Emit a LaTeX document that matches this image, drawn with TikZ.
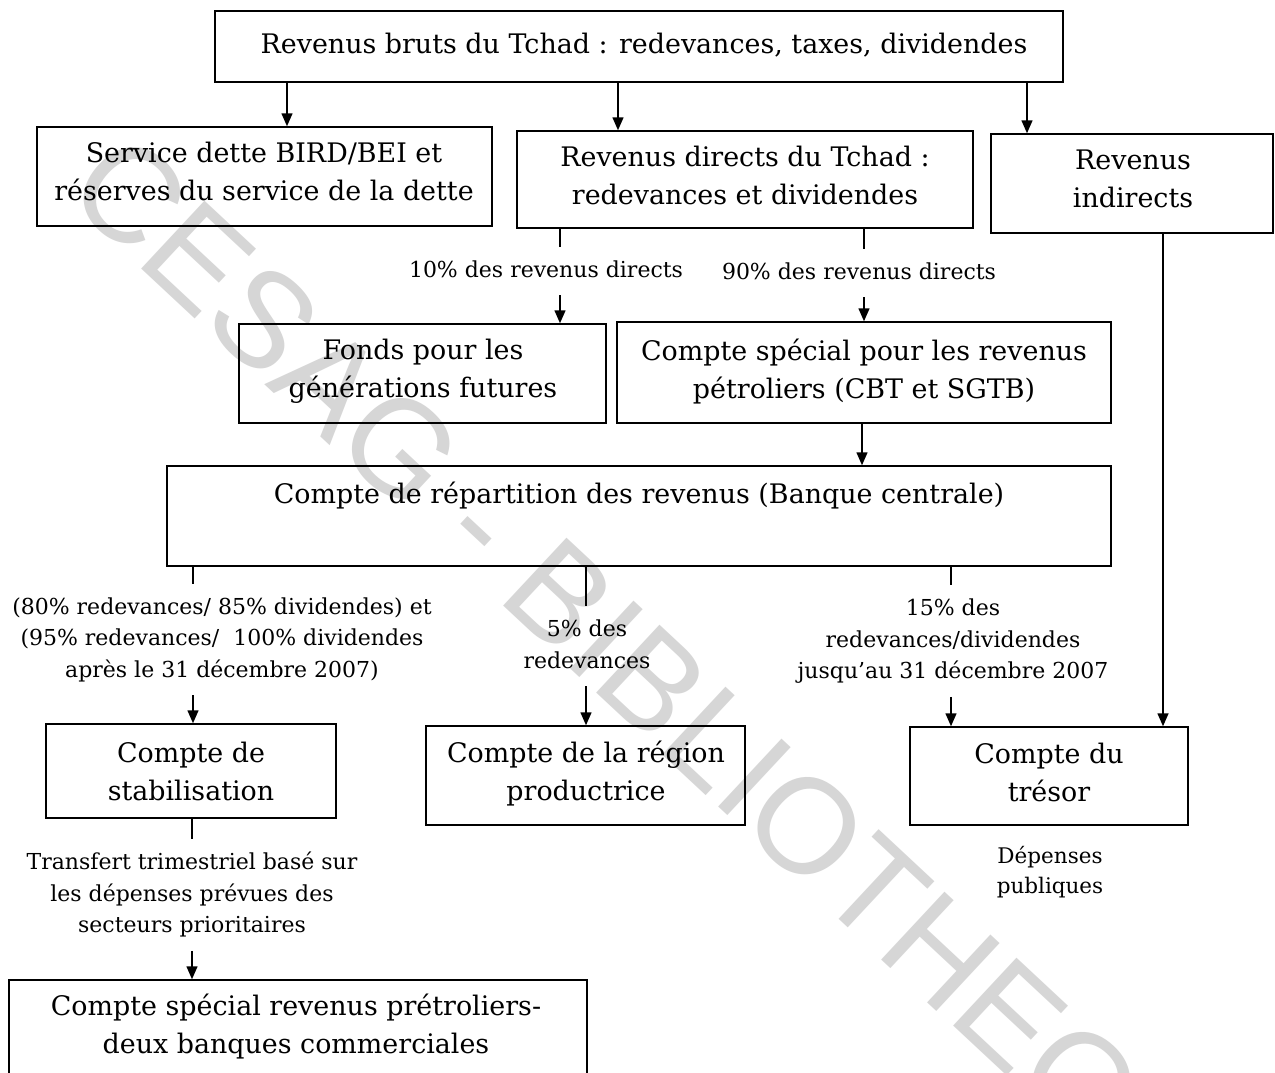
\documentclass[tikz,border=0pt]{standalone}
\usepackage{fontspec}
\usetikzlibrary{arrows.meta}
\newfontfamily\wmfont{Liberation Sans}
\newfontfamily\dserif{DejaVu Serif}
\tikzset{
  box/.style={draw, line width=1.5pt, inner sep=0pt},
  btxt/.style={align=center, font=\dserif\fontsize{26.9}{38}\selectfont, inner sep=0pt},
  ltxt/.style={align=center, font=\dserif\fontsize{22}{31.5}\selectfont, inner xsep=0pt, inner ysep=8.5pt},
  dtxt/.style={align=center, font=\dserif\fontsize{21.5}{30}\selectfont, inner sep=0pt},
  arr/.style={line width=1.5pt, -{Triangle[length=13pt,width=11pt]}},
  ln/.style={line width=1.5pt},
  wm/.style={text=black!16, font=\wmfont\fontsize{135}{135}\selectfont, inner sep=0pt},
}
\begin{document}
\begin{tikzpicture}[x=1pt,y=-1pt]
\useasboundingbox (0,0) rectangle (1275,1073);
\fill[white] (0,0) rectangle (1275,1073);
% watermark
\node[wm, rotate=-43] (wmark) at (667,712) {CESAG - BIBLIOTHEQUE};
% boxes
\node[box, minimum width=848, minimum height=71] (top) at (639,46.5) {};
\node[box, minimum width=455, minimum height=99] (svc) at (264.5,176.5) {};
\node[box, minimum width=456, minimum height=97] (dir) at (745,179.5) {};
\node[box, minimum width=282, minimum height=99] (ind) at (1132,183.5) {};
\node[box, minimum width=367, minimum height=99] (fonds) at (422.5,373.5) {};
\node[box, minimum width=494, minimum height=101] (csp) at (864,372.5) {};
\node[box, minimum width=944, minimum height=100] (rep) at (639,516) {};
\node[box, minimum width=290, minimum height=94] (stab) at (191,771) {};
\node[box, minimum width=319, minimum height=99] (reg) at (585.5,775.5) {};
\node[box, minimum width=278, minimum height=98] (tres) at (1049,776) {};
\node[box, minimum width=578, minimum height=110] (bot) at (298,1035) {};
% box texts
\node[btxt] (ttop) at (644,45.5) {\strut Revenus bruts du Tchad : redevances, taxes, dividendes};
\node[btxt] (tsvc) at (264,173.5) {\strut Service dette BIRD/BEI et\\\strut réserves du service de la dette};
\node[btxt] (tdir) at (745,177.5) {\strut Revenus directs du Tchad :\\\strut redevances et dividendes};
\node[btxt] (tind) at (1133,181) {\strut Revenus\\\strut indirects};
\node[btxt] (tfonds) at (423,371) {\strut Fonds pour les\\\strut générations futures};
\node[btxt] (tcsp) at (864,371.5) {\strut Compte spécial pour les revenus\\\strut pétroliers (CBT et SGTB)};
\node[btxt] (trep) at (639,495.5) {\strut Compte de répartition des revenus (Banque centrale)};
\node[btxt] (tstab) at (191,774) {\strut Compte de\\\strut stabilisation};
\node[btxt] (treg) at (586,774) {\strut Compte de la région\\\strut productrice};
\node[btxt] (ttres) at (1049,775) {\strut Compte du\\\strut trésor};
\node[btxt] (tbot) at (296,1027) {\strut Compte spécial revenus prétroliers-\\\strut deux banques commerciales};
% labels
\node[ltxt] (l10) at (546,271) {\strut 10\% des revenus directs};
\node[ltxt] (l90) at (859,273) {\strut 90\% des revenus directs};
\node[ltxt] (lL) at (222,639.5) {\strut (80\% redevances/ 85\% dividendes) et\\\strut (95\% redevances/\ \ 100\% dividendes\\\strut après le 31 décembre 2007)};
\node[ltxt] (l5) at (587,646) {\strut 5\% des\\\strut redevances};
\node[ltxt] (l15) at (953,641) {\strut 15\% des\\\strut redevances/dividendes\\\strut jusqu’au 31 décembre 2007};
\node[ltxt] (lT) at (192,895) {\strut Transfert trimestriel basé sur\\\strut les dépenses prévues des\\\strut secteurs prioritaires};
\node[dtxt] (ldep) at (1050,872) {\strut Dépenses\\\strut publiques};
% x positions of connectors
\coordinate (xA) at (287,0);
\coordinate (xB) at (618,0);
\coordinate (xC) at (1027,0);
\coordinate (xD) at (560,0);
\coordinate (xE) at (864,0);
\coordinate (xF) at (862,0);
\coordinate (xG) at (193,0);
\coordinate (xH) at (586,0);
\coordinate (xI) at (951,0);
\coordinate (xJ) at (1163,0);
\coordinate (xK) at (192,0);
% connectors
\draw[arr] (top.south -| xA) -- (svc.north -| xA);
\draw[arr] (top.south -| xB) -- (dir.north -| xB);
\draw[arr] (top.south -| xC) -- (ind.north -| xC);
\draw[ln] (dir.south -| xD) -- (l10.north -| xD);
\draw[arr] (l10.south -| xD) -- (fonds.north -| xD);
\draw[ln] (dir.south -| xE) -- (l90.north -| xE);
\draw[arr] (l90.south -| xE) -- (csp.north -| xE);
\draw[arr] (csp.south -| xF) -- (rep.north -| xF);
\draw[ln] (rep.south -| xG) -- (lL.north -| xG);
\draw[arr] (lL.south -| xG) -- (stab.north -| xG);
\draw[ln] (rep.south -| xH) -- (l5.north -| xH);
\draw[arr] (l5.south -| xH) -- (reg.north -| xH);
\draw[ln] (rep.south -| xI) -- (l15.north -| xI);
\draw[arr] (l15.south -| xI) -- (tres.north -| xI);
\draw[arr] (ind.south -| xJ) -- (tres.north -| xJ);
\draw[ln] (stab.south -| xK) -- (lT.north -| xK);
\draw[arr] (lT.south -| xK) -- (bot.north -| xK);
\end{tikzpicture}
\end{document}
